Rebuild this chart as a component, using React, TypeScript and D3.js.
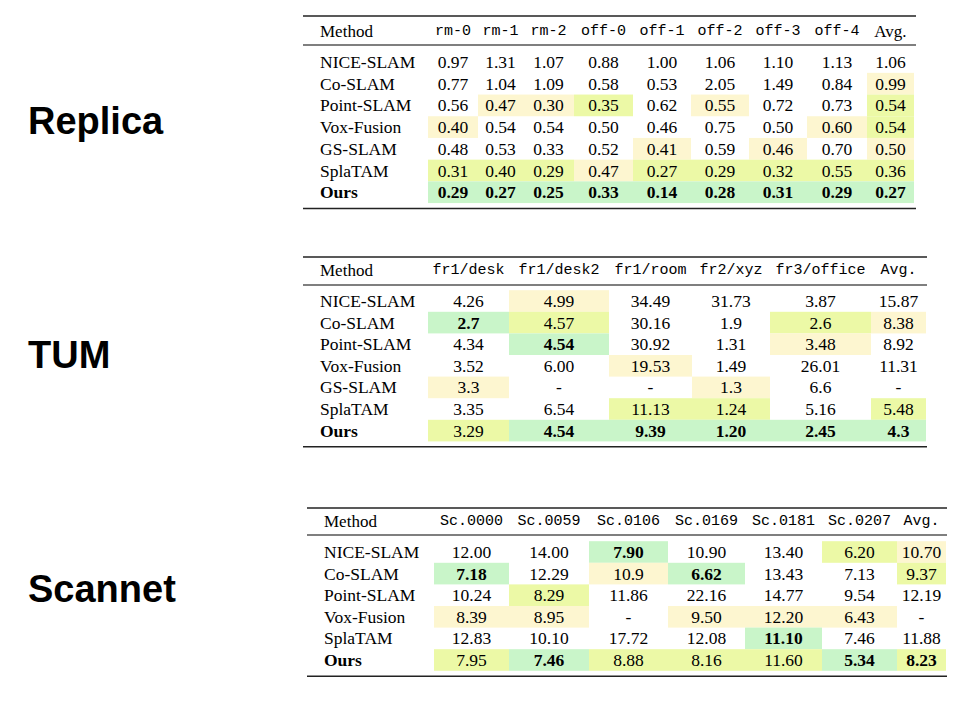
import React from 'react';
import * as d3 from 'd3';

// ---- data ----
const methodsReplica = ['NICE-SLAM', 'Co-SLAM', 'Point-SLAM', 'Vox-Fusion', 'GS-SLAM', 'SplaTAM', 'Ours'];
const colsReplica = ['rm-0', 'rm-1', 'rm-2', 'off-0', 'off-1', 'off-2', 'off-3', 'off-4', 'Avg.'];
const valuesReplica = [
  ['0.97', '1.31', '1.07', '0.88', '1.00', '1.06', '1.10', '1.13', '1.06'],
  ['0.77', '1.04', '1.09', '0.58', '0.53', '2.05', '1.49', '0.84', '0.99'],
  ['0.56', '0.47', '0.30', '0.35', '0.62', '0.55', '0.72', '0.73', '0.54'],
  ['0.40', '0.54', '0.54', '0.50', '0.46', '0.75', '0.50', '0.60', '0.54'],
  ['0.48', '0.53', '0.33', '0.52', '0.41', '0.59', '0.46', '0.70', '0.50'],
  ['0.31', '0.40', '0.29', '0.47', '0.27', '0.29', '0.32', '0.55', '0.36'],
  ['0.29', '0.27', '0.25', '0.33', '0.14', '0.28', '0.31', '0.29', '0.27'],
];
// 0 none, 1 yellow, 2 lime, 3 green
const hlReplica = ['000000000', '000000001', '011201002', '100000012', '000010101', '222122222', '333333333'];
const boldReplica = ['000000000', '000000000', '000000000', '000000000', '000000000', '000000000', '111111111'];

const methodsTum = ['NICE-SLAM', 'Co-SLAM', 'Point-SLAM', 'Vox-Fusion', 'GS-SLAM', 'SplaTAM', 'Ours'];
const colsTum = ['fr1/desk', 'fr1/desk2', 'fr1/room', 'fr2/xyz', 'fr3/office', 'Avg.'];
const valuesTum = [
  ['4.26', '4.99', '34.49', '31.73', '3.87', '15.87'],
  ['2.7', '4.57', '30.16', '1.9', '2.6', '8.38'],
  ['4.34', '4.54', '30.92', '1.31', '3.48', '8.92'],
  ['3.52', '6.00', '19.53', '1.49', '26.01', '11.31'],
  ['3.3', '-', '-', '1.3', '6.6', '-'],
  ['3.35', '6.54', '11.13', '1.24', '5.16', '5.48'],
  ['3.29', '4.54', '9.39', '1.20', '2.45', '4.3'],
];
const hlTum = ['010000', '320021', '030010', '001000', '100100', '002202', '233333'];
const boldTum = ['000000', '100000', '010000', '000000', '000000', '000000', '011111'];

const methodsScan = ['NICE-SLAM', 'Co-SLAM', 'Point-SLAM', 'Vox-Fusion', 'SplaTAM', 'Ours'];
const colsScan = ['Sc.0000', 'Sc.0059', 'Sc.0106', 'Sc.0169', 'Sc.0181', 'Sc.0207', 'Avg.'];
const valuesScan = [
  ['12.00', '14.00', '7.90', '10.90', '13.40', '6.20', '10.70'],
  ['7.18', '12.29', '10.9', '6.62', '13.43', '7.13', '9.37'],
  ['10.24', '8.29', '11.86', '22.16', '14.77', '9.54', '12.19'],
  ['8.39', '8.95', '-', '9.50', '12.20', '6.43', '-'],
  ['12.83', '10.10', '17.72', '12.08', '11.10', '7.46', '11.88'],
  ['7.95', '7.46', '8.88', '8.16', '11.60', '5.34', '8.23'],
];
const hlScan = ['0030021', '3013002', '0200000', '1101110', '0000300', '2322232'];
const boldScan = ['0010000', '1001000', '0000000', '0000000', '0000100', '0100011'];

const fills = ['none', '#fdf6d0', '#ecf9a6', '#c9f5c9'];

interface TableProps {
  title: string;
  titleY: number;
  x0: number;
  x1: number;
  edges: number[]; // column boundaries, first = end of Method column
  top: number;
  headerY: number;
  headerRule: number;
  firstRow: number;
  rowStep: number;
  methods: string[];
  cols: string[];
  values: string[][];
  hl: string[];
  bold: string[];
}

const serif = '"Liberation Serif", "DejaVu Serif", serif';
const mono = '"Liberation Mono", "DejaVu Sans Mono", monospace';

function Table(p: TableProps) {
  const rows = d3.scaleLinear().domain([0, 1]).range([p.firstRow, p.firstRow + p.rowStep]);
  const last = rows(p.methods.length - 1);
  const bottom = last + p.rowStep * 0.75;
  const serifAvg = p.title === 'Replica';
  return (
    <g>
      <text x={28} y={p.titleY} fontFamily='"Liberation Sans", Arial, sans-serif' fontWeight="bold" fontSize={38} dominantBaseline="central">{p.title}</text>
      {p.values.map((r, i) =>
        r.map((_, j) => {
          const code = +p.hl[i][j];
          if (!code) return null;
          return <rect key={`h${i}-${j}`} x={p.edges[j]} width={p.edges[j + 1] - p.edges[j]} y={rows(i) - p.rowStep / 2} height={p.rowStep} fill={fills[code]} />;
        })
      )}
      <line x1={p.x0} x2={p.x1} y1={p.top} y2={p.top} stroke="#222" strokeWidth={1.5} />
      <line x1={p.x0} x2={p.x1} y1={p.headerRule} y2={p.headerRule} stroke="#555" strokeWidth={1.5} />
      <line x1={p.x0} x2={p.x1} y1={bottom} y2={bottom} stroke="#222" strokeWidth={1.5} />
      <text x={p.x0 + 17} y={p.headerY} fontFamily={serif} fontSize={17} dominantBaseline="central">Method</text>
      {p.cols.map((c, j) => (
        <text key={c} x={(p.edges[j] + p.edges[j + 1]) / 2} y={p.headerY} fontFamily={c === 'Avg.' && serifAvg ? serif : mono}
          fontSize={c === 'Avg.' && serifAvg ? 17 : 15} textAnchor="middle" dominantBaseline="central">{c}</text>
      ))}
      {p.methods.map((m, i) => (
        <text key={m} x={p.x0 + 17} y={rows(i)} fontFamily={serif} fontSize={17.5} fontWeight={m === 'Ours' ? 'bold' : 'normal'} dominantBaseline="central">{m}</text>
      ))}
      {p.values.map((r, i) =>
        r.map((v, j) => (
          <text key={`v${i}-${j}`} x={(p.edges[j] + p.edges[j + 1]) / 2} y={rows(i)} fontFamily={serif} fontSize={17.5}
            fontWeight={p.bold[i][j] === '1' ? 'bold' : 'normal'} textAnchor="middle" dominantBaseline="central">{v}</text>
        ))
      )}
    </g>
  );
}

export default function App() {
  return (
    <svg width={970} height={712} style={{ position: 'absolute', left: 0, top: 0, background: '#fff' }}>
      <rect width={970} height={712} fill="#fff" />
      <Table title="Replica" titleY={121} x0={303} x1={916}
        edges={[428, 478, 523, 574, 633, 691, 749, 807, 867, 914]}
        top={16} headerY={31} headerRule={45} firstRow={62} rowStep={21.7}
        methods={methodsReplica} cols={colsReplica} values={valuesReplica} hl={hlReplica} bold={boldReplica} />
      <Table title="TUM" titleY={355} x0={303} x1={927}
        edges={[428, 509, 609, 692, 770, 871, 926]}
        top={257} headerY={270} headerRule={285} firstRow={301} rowStep={21.6}
        methods={methodsTum} cols={colsTum} values={valuesTum} hl={hlTum} bold={boldTum} />
      <Table title="Scannet" titleY={589} x0={307} x1={947}
        edges={[434, 509, 589, 668, 745, 822, 897, 946]}
        top={508} headerY={521} headerRule={535} firstRow={552} rowStep={21.6}
        methods={methodsScan} cols={colsScan} values={valuesScan} hl={hlScan} bold={boldScan} />
    </svg>
  );
}
